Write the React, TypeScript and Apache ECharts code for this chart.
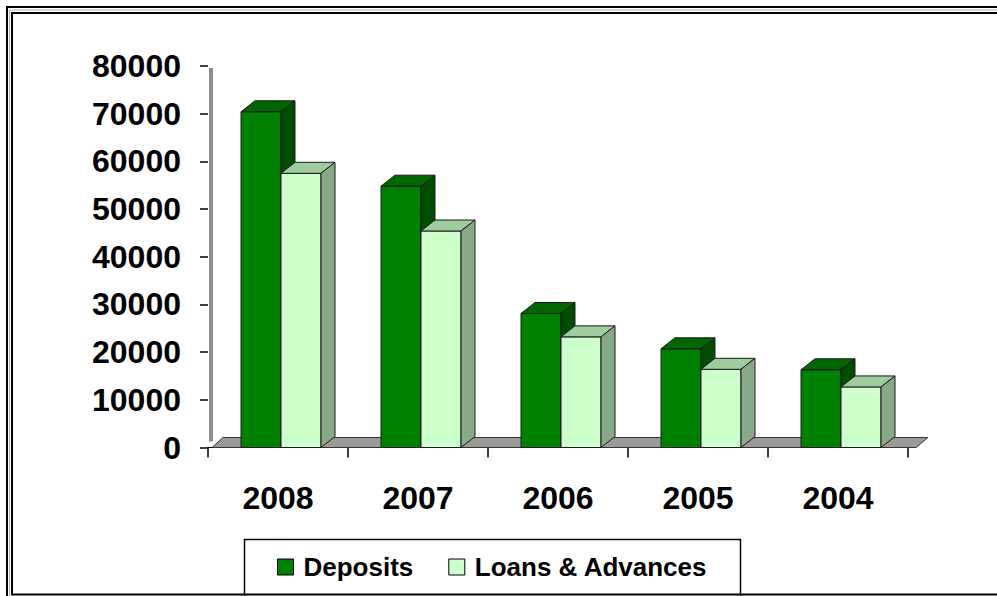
import React, { useEffect, useRef } from "react";
import * as echarts from "echarts";

const categories = ["2008", "2007", "2006", "2005", "2004"];
const deposits = [70400, 54800, 28100, 20700, 16300];
const loans = [57500, 45400, 23200, 16400, 12700];
const seriesNames = ["Deposits", "Loans & Advances"];

const FONT = "'Liberation Sans', Arial, sans-serif";

const depColors = { front: "#008000", top: "#006600", side: "#004f00" };
const loanColors = { front: "#ccffcc", top: "#9fcc9f", side: "#87a987" };

function makeBarRenderer(offset: number, colors: { front: string; top: string; side: string }) {
  return (params: any, api: any) => {
    const idx = api.value(0);
    const val = api.value(1);
    const base = api.coord([idx, 0]);
    const top = api.coord([idx, val]);
    const bw = api.size([1, 0])[0];
    const w = (bw * 40) / 140;
    const left = base[0] + (offset * bw) / 140;
    const right = left + w;
    const yb = base[1];
    const yt = top[1];
    const dx = 14;
    const dy = -11;
    const stroke = "#1a1a1a";
    return {
      type: "group",
      children: [
        {
          type: "polygon",
          shape: { points: [[left, yb], [left, yt], [right, yt], [right, yb]] },
          style: { fill: colors.front, stroke, lineWidth: 1 },
        },
        {
          type: "polygon",
          shape: { points: [[left, yt], [left + dx, yt + dy], [right + dx, yt + dy], [right, yt]] },
          style: { fill: colors.top, stroke, lineWidth: 1 },
        },
        {
          type: "polygon",
          shape: { points: [[right, yt], [right + dx, yt + dy], [right + dx, yb + dy], [right, yb]] },
          style: { fill: colors.side, stroke, lineWidth: 1 },
        },
      ],
    };
  };
}

function floorRenderer(params: any, api: any) {
  const cs = params.coordSys;
  const x0 = cs.x;
  const x1 = cs.x + cs.width;
  const y0 = cs.y + cs.height;
  const yTop = cs.y;
  return {
    type: "group",
    children: [
      {
        type: "line",
        shape: { x1: x0 + 3, y1: yTop + 2, x2: x0 + 3, y2: y0 - 6 },
        style: { stroke: "#8c8c8c", lineWidth: 4 },
      },
      {
        type: "polygon",
        shape: {
          points: [
            [x0 + 4, y0],
            [x0 + 15, y0 - 10],
            [x1 + 20, y0 - 10],
            [x1 + 8, y0],
          ],
        },
        style: { fill: "#9a9a9a", stroke: "#333", lineWidth: 1 },
      },
    ],
  };
}

export default function App() {
  const ref = useRef<HTMLDivElement>(null);
  useEffect(() => {
    document.body.style.margin = "0";
    const chart = echarts.init(ref.current as HTMLDivElement, null, { renderer: "svg" });
    const option: any = {
      animation: false,
      backgroundColor: "#ffffff",
      grid: { left: 208, right: 89, top: 66, bottom: 148.5 },
      xAxis: {
        type: "category",
        data: categories,
        axisLine: { show: true, lineStyle: { color: "#000", width: 1 } },
        axisTick: { show: true, length: 10, interval: 0, lineStyle: { color: "#000", width: 1.5 } },
        axisLabel: {
          margin: 34,
          fontSize: 32,
          fontWeight: "bold",
          fontFamily: FONT,
          color: "#000",
        },
        splitLine: { show: false },
      },
      yAxis: {
        type: "value",
        min: 0,
        max: 80000,
        interval: 10000,
        axisLine: { show: false },
        axisTick: { show: true, length: 8, lineStyle: { color: "#000", width: 1.5 } },
        axisLabel: {
          margin: 27,
          fontSize: 32,
          fontWeight: "bold",
          fontFamily: FONT,
          color: "#000",
          formatter: (v: number) => String(v),
        },
        splitLine: { show: false },
      },
      legend: {
        left: 277,
        top: 554,
        padding: 0,
        icon: "rect",
        itemWidth: 16,
        itemHeight: 16,
        itemGap: 35,
        textStyle: {
          fontSize: 26,
          fontWeight: "bold",
          fontFamily: FONT,
          color: "#000",
          padding: [0, 0, 0, 5],
        },
        data: [
          { name: seriesNames[0], itemStyle: { color: depColors.front, borderColor: "#000", borderWidth: 1 } },
          { name: seriesNames[1], itemStyle: { color: loanColors.front, borderColor: "#000", borderWidth: 1 } },
        ],
      },
      series: [
        {
          type: "custom",
          name: "floor",
          z: 1,
          renderItem: floorRenderer,
          data: [[0, 0]],
          encode: { x: 0, y: 1 },
          silent: true,
        },
        {
          type: "custom",
          name: seriesNames[0],
          z: 2,
          renderItem: makeBarRenderer(-37, depColors),
          data: deposits.map((v, i) => [i, v]),
          encode: { x: 0, y: 1 },
          itemStyle: { color: depColors.front },
        },
        {
          type: "custom",
          name: seriesNames[1],
          z: 3,
          renderItem: makeBarRenderer(3, loanColors),
          data: loans.map((v, i) => [i, v]),
          encode: { x: 0, y: 1 },
          itemStyle: { color: loanColors.front },
        },
      ],
      graphic: [
        {
          type: "rect",
          shape: { x: 7, y: 7, width: 1010, height: 620 },
          style: { fill: "none", stroke: "#000", lineWidth: 2 },
          silent: true,
        },
        {
          type: "rect",
          shape: { x: 9.5, y: 10, width: 1010, height: 620 },
          style: { fill: "none", stroke: "#b0b0b0", lineWidth: 1 },
          silent: true,
        },
        {
          type: "rect",
          shape: { x: 12, y: 13, width: 1010, height: 581.5 },
          style: { fill: "none", stroke: "#000", lineWidth: 2 },
          silent: true,
        },
        {
          type: "rect",
          shape: { x: 244.5, y: 539.5, width: 496, height: 70 },
          style: { fill: "none", stroke: "#000", lineWidth: 1.5 },
          silent: true,
        },
      ],
    };
    chart.setOption(option);
    return () => chart.dispose();
  }, []);
  return <div ref={ref} style={{ width: 997, height: 596 }} />;
}
